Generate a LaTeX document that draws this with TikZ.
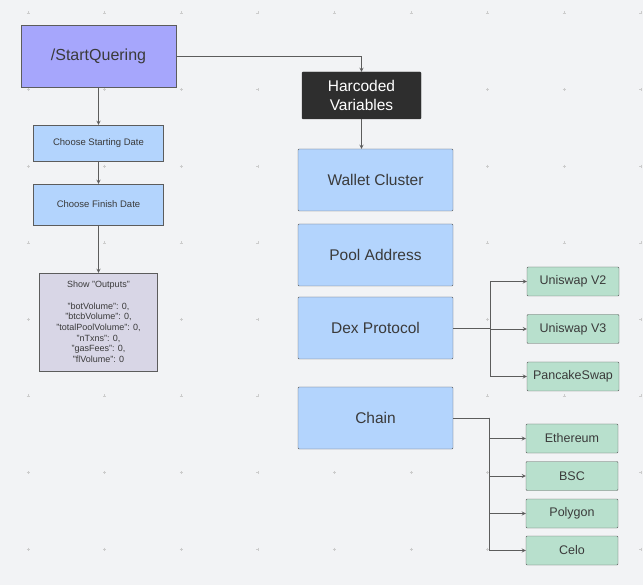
\documentclass[tikz,border=0pt]{standalone}
\usepackage{fontspec}
\setmainfont{Liberation Sans}
\usepackage{tikz}
\usetikzlibrary{arrows}
\definecolor{canvas}{HTML}{F2F3F5}
\definecolor{lavender}{HTML}{A6A6FC}
\definecolor{skyblue}{HTML}{B3D4FD}
\definecolor{mint}{HTML}{B8E0CD}
\definecolor{greyviolet}{HTML}{D8D6E6}
\definecolor{inkgrey}{HTML}{3A3A3A}
\definecolor{edgegrey}{HTML}{5C5C5C}
\tikzstyle{startbox} = [rectangle, minimum width=155pt, minimum height=62pt,
                        draw=edgegrey, fill=lavender, text=inkgrey,
                        font=\fontsize{16}{19}\selectfont]
\tikzstyle{darkbox}  = [rectangle, rounded corners=1pt, minimum width=119pt,
                        minimum height=47pt, draw=black!80, fill=black!82,
                        text=white, align=center,
                        font=\fontsize{15.5}{19}\selectfont]
\tikzstyle{datebox}  = [rectangle, minimum width=130pt, draw=edgegrey,
                        fill=skyblue, text=inkgrey,
                        font=\fontsize{9.5}{11}\selectfont]
\tikzstyle{outbox}   = [rectangle, minimum width=118pt, minimum height=98pt,
                        draw=edgegrey, fill=greyviolet, text=inkgrey,
                        align=center, font=\fontsize{9}{10.7}\selectfont]
\tikzstyle{varbox}   = [rectangle, rounded corners=1pt, minimum width=155pt,
                        minimum height=62pt, draw=edgegrey, fill=skyblue,
                        text=inkgrey, font=\fontsize{15.5}{19}\selectfont]
\tikzstyle{leafbox}  = [rectangle, rounded corners=1pt, minimum width=92pt,
                        minimum height=29pt, draw=edgegrey, fill=mint,
                        text=inkgrey, font=\fontsize{12.5}{15}\selectfont]
\tikzstyle{arrow} = [->, >=stealth, draw=edgegrey, line width=0.8pt]
\tikzstyle{line}  = [draw=edgegrey, line width=0.8pt]
\tikzstyle{gridmark} = [draw=black!20, line width=0.4pt]

\begin{document}
\begin{tikzpicture}[x=1pt, y=-1pt]
\fill [canvas] (0,0) rectangle (643,585);
\foreach \gx in {0,...,8}
  \foreach \gy in {0,...,7}
    \draw [gridmark] ({28+76.6*\gx-1.5},{13+76.6*\gy}) -- ++(3,0)
                     ({28+76.6*\gx},{13+76.6*\gy-1.5}) -- ++(0,3);

\node (start)  [startbox] at (98.5,56) {/StartQuering};
\node (hard)   [darkbox]  at (361.5,95.5) {Harcoded\\Variables};
\node (begin)  [datebox, minimum height=36pt] at (98.5,143) {Choose Starting Date};
\node (finish) [datebox, minimum height=41pt] at (98.5,204.5) {Choose Finish Date};
\node (show)   [outbox]   at (98.5,322) {Show "Outputs"\\[10.7pt]
  "botVolume": 0,\\ "btcbVolume": 0,\\ "totalPoolVolume": 0,\\
  "nTxns": 0,\\ "gasFees": 0,\\ "flVolume": 0};

\node (wallet) [varbox] at (375.5,180) {Wallet Cluster};
\node (pool)   [varbox] at (375.5,255) {Pool Address};
\node (dex)    [varbox] at (375.5,328) {Dex Protocol};
\node (chain)  [varbox] at (375.5,418) {Chain};

\node (uv2)  [leafbox] at (573,281.5) {Uniswap V2};
\node (uv3)  [leafbox] at (573,329)   {Uniswap V3};
\node (cake) [leafbox] at (573,376.5) {PancakeSwap};
\node (eth)  [leafbox] at (572,438.5) {Ethereum};
\node (bsc)  [leafbox] at (572,476)   {BSC};
\node (poly) [leafbox] at (572,513.5) {Polygon};
\node (celo) [leafbox] at (572,550.5) {Celo};

\coordinate (dexfork)   at (490,328);
\coordinate (chainfork) at (489,418);

\draw [arrow] (start) -| (hard);
\draw [arrow] (start) -- (begin);
\draw [arrow] (begin) -- (finish);
\draw [arrow] (finish) -- (show);
\draw [arrow] (hard) -- (hard |- wallet.north);

\draw [line]  (dex) -- (dexfork);
\draw [arrow] (dexfork) |- (uv2);
\draw [arrow] (dexfork) |- (uv3);
\draw [arrow] (dexfork) |- (cake);

\draw [line]  (chain) -- (chainfork);
\draw [arrow] (chainfork) |- (eth);
\draw [arrow] (chainfork) |- (bsc);
\draw [arrow] (chainfork) |- (poly);
\draw [arrow] (chainfork) |- (celo);
\end{tikzpicture}
\end{document}
